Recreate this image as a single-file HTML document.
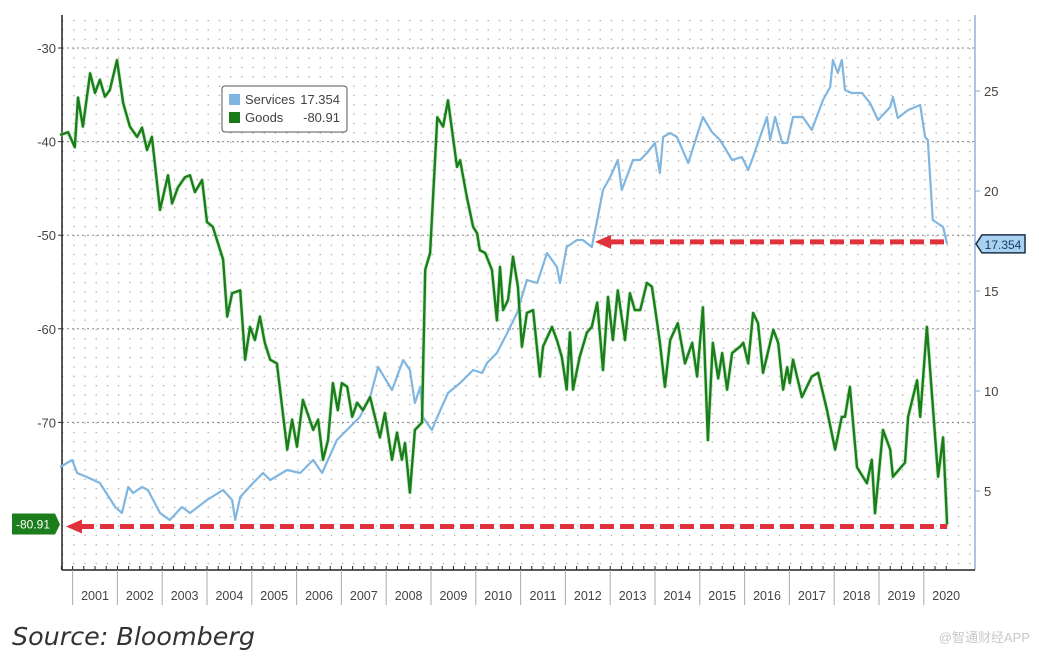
<!DOCTYPE html>
<html><head><meta charset="utf-8">
<style>
body{margin:0;background:#fff;width:1039px;height:657px;overflow:hidden;font-family:"Liberation Sans","Noto Sans CJK SC",sans-serif}
svg{position:absolute;left:0;top:0}
</style></head>
<body>
<svg id="chart" width="1039" height="657" viewBox="0 0 1039 657">
<defs>
<pattern id="dots" x="62" y="20" width="11.2" height="9.36" patternUnits="userSpaceOnUse">
<rect x="0" y="0" width="1.2" height="1.2" fill="#9a9a9a"/>
</pattern>
</defs>
<rect x="62" y="15" width="913" height="555" fill="url(#dots)"/>
<g id="hgrid"></g>
<g id="axes"></g>
<g id="series"></g>
<g id="overlay"></g>
<g>
<rect x="222" y="86" width="125" height="46" rx="3" fill="#fff" stroke="#555" stroke-width="1"/>
<rect x="229" y="94" width="11" height="11" fill="#7fb5e0"/>
<text x="245" y="104" font-size="13" fill="#444">Services</text>
<text x="340" y="104" font-size="13" fill="#444" text-anchor="end">17.354</text>
<rect x="229" y="112" width="11" height="11" fill="#1a7a1a"/>
<text x="245" y="122" font-size="13" fill="#444">Goods</text>
<text x="340" y="122" font-size="13" fill="#444" text-anchor="end">-80.91</text>
</g>
<text x="12" y="645" font-size="25" font-style="italic" fill="#333" font-family="'DejaVu Sans','Liberation Sans',sans-serif" textLength="243" lengthAdjust="spacingAndGlyphs">Source: Bloomberg</text>
<text x="1030" y="642" font-size="13" fill="#c8c8c8" text-anchor="end" font-family="'Liberation Sans','Noto Sans CJK SC',sans-serif">@智通财经APP</text>
</svg>
<script>
const goodsDates=[2000.72,2000.90,2001.05,2001.12,2001.23,2001.39,2001.50,2001.61,2001.72,2001.83,2001.99,2002.13,2002.28,2002.44,2002.55,2002.66,2002.77,2002.95,2003.13,2003.22,2003.35,2003.51,2003.62,2003.73,2003.89,2004.00,2004.13,2004.36,2004.45,2004.56,2004.74,2004.85,2004.96,2005.07,2005.18,2005.29,2005.41,2005.56,2005.79,2005.90,2006.01,2006.14,2006.37,2006.48,2006.59,2006.70,2006.81,2006.92,2007.01,2007.13,2007.24,2007.35,2007.48,2007.64,2007.86,2007.97,2008.13,2008.24,2008.35,2008.42,2008.53,2008.64,2008.80,2008.87,2008.98,2009.14,2009.27,2009.38,2009.58,2009.65,2009.80,2009.94,2010.03,2010.09,2010.21,2010.36,2010.47,2010.54,2010.61,2010.72,2010.83,2010.94,2011.03,2011.14,2011.28,2011.43,2011.50,2011.70,2011.81,2011.92,2012.03,2012.10,2012.17,2012.32,2012.48,2012.59,2012.71,2012.84,2012.95,2013.06,2013.17,2013.33,2013.44,2013.55,2013.67,2013.82,2013.93,2014.05,2014.11,2014.22,2014.34,2014.51,2014.67,2014.83,2014.94,2015.07,2015.18,2015.29,2015.41,2015.50,2015.61,2015.72,2015.90,2015.97,2016.08,2016.19,2016.30,2016.41,2016.64,2016.75,2016.86,2016.95,2017.01,2017.08,2017.28,2017.50,2017.64,2017.84,2018.02,2018.17,2018.24,2018.35,2018.51,2018.73,2018.84,2018.91,2019.09,2019.25,2019.31,2019.58,2019.65,2019.85,2019.92,2020.07,2020.32,2020.43,2020.52];
const goodsValues=[-39.3,-39.0,-40.6,-35.3,-38.4,-32.7,-34.8,-33.4,-35.2,-34.5,-31.3,-35.9,-38.4,-39.5,-38.5,-40.9,-39.5,-47.3,-43.6,-46.6,-44.9,-43.8,-43.6,-45.4,-44.1,-48.6,-49.1,-52.6,-58.7,-56.2,-55.9,-63.3,-59.8,-61.2,-58.7,-61.5,-63.3,-63.7,-72.9,-69.7,-72.6,-67.6,-70.8,-69.7,-74.0,-71.9,-65.8,-68.7,-65.8,-66.2,-69.4,-67.9,-68.7,-67.3,-71.6,-69.0,-74.0,-71.1,-74.0,-72.2,-77.5,-70.8,-70.0,-53.7,-51.9,-37.4,-38.4,-35.6,-42.7,-42.0,-45.9,-49.1,-49.8,-51.6,-51.9,-53.7,-59.1,-53.4,-58.0,-56.9,-52.3,-55.5,-61.9,-58.3,-58.0,-65.1,-61.9,-59.8,-61.2,-63.0,-66.5,-60.4,-66.5,-63.0,-60.4,-59.8,-57.2,-64.4,-56.6,-61.2,-55.9,-61.2,-56.2,-58.0,-58.0,-55.1,-55.5,-59.4,-61.5,-66.2,-61.2,-59.4,-63.7,-61.5,-65.1,-57.7,-71.9,-61.5,-65.3,-62.6,-66.5,-62.6,-61.9,-61.5,-63.7,-58.3,-59.4,-64.7,-60.1,-61.5,-66.5,-64.1,-65.8,-63.3,-67.3,-65.1,-64.7,-68.7,-72.9,-69.4,-69.4,-66.2,-74.8,-76.5,-74.0,-79.7,-70.8,-72.9,-75.8,-74.3,-69.4,-65.5,-69.4,-59.8,-75.8,-71.6,-80.91];
const servicesDates=[2000.72,2000.99,2001.10,2001.32,2001.61,2001.95,2002.10,2002.24,2002.35,2002.55,2002.68,2002.95,2003.17,2003.44,2003.62,2004.00,2004.36,2004.56,2004.63,2004.74,2005.03,2005.25,2005.41,2005.79,2006.08,2006.37,2006.57,2006.90,2007.19,2007.41,2007.64,2007.82,2008.13,2008.38,2008.53,2008.64,2008.76,2008.82,2009.02,2009.14,2009.38,2009.65,2009.94,2010.14,2010.25,2010.47,2010.70,2010.92,2011.14,2011.37,2011.59,2011.81,2011.88,2012.03,2012.26,2012.39,2012.59,2012.71,2012.84,2013.00,2013.17,2013.26,2013.51,2013.67,2013.82,2014.00,2014.11,2014.18,2014.34,2014.49,2014.74,2015.07,2015.27,2015.45,2015.72,2015.94,2016.08,2016.19,2016.50,2016.57,2016.68,2016.84,2016.95,2017.08,2017.30,2017.50,2017.75,2017.91,2017.97,2018.08,2018.17,2018.24,2018.39,2018.62,2018.80,2018.98,2019.25,2019.31,2019.42,2019.65,2019.92,2020.03,2020.09,2020.20,2020.43,2020.52];
const servicesValues=[6.2,6.55,5.9,5.7,5.4,4.2,3.9,5.2,4.9,5.2,5.05,3.9,3.55,4.2,3.9,4.55,5.05,4.55,3.55,4.7,5.4,5.9,5.55,6.05,5.9,6.55,5.9,7.55,8.2,8.7,9.7,11.2,10.05,11.55,11.05,9.4,10.2,8.7,8.05,8.7,9.9,10.4,11.05,10.9,11.4,11.9,12.9,13.9,15.55,15.4,16.9,16.2,15.4,17.2,17.55,17.55,17.2,18.55,20.05,20.7,21.55,20.05,21.55,21.55,21.9,22.4,20.9,22.7,22.9,22.7,21.4,23.7,22.95,22.55,21.55,21.7,21.05,21.7,23.7,22.55,23.7,22.4,22.4,23.7,23.7,23.05,24.55,25.2,26.55,25.9,26.55,25.05,24.9,24.9,24.4,23.55,24.2,24.7,23.65,24.05,24.3,22.7,22.55,18.55,18.2,17.354];
const leftTicks=[-30,-40,-50,-60,-70];
const rightTicks=[25,20,15,10,5];
const years=[2001,2002,2003,2004,2005,2006,2007,2008,2009,2010,2011,2012,2013,2014,2015,2016,2017,2018,2019,2020];

const NS='http://www.w3.org/2000/svg';
const X0=62,X1=975,YB=570;
const xS=t=>72.6+(t-2001)*44.8;
const yL=v=>48+(-30-v)*9.36;
const yR=v=>91+(25-v)*20;
function mk(tag,attrs,parent){const e=document.createElementNS(NS,tag);for(const k in attrs)e.setAttribute(k,attrs[k]);parent.appendChild(e);return e;}
const hg=document.getElementById('hgrid'),ax=document.getElementById('axes'),se=document.getElementById('series'),ov=document.getElementById('overlay');

leftTicks.forEach(v=>{
  const y=yL(v);
  const l=mk('line',{x1:X0,x2:X1,y1:y,y2:y,stroke:'#888','stroke-width':1,'stroke-dasharray':'2 3'},hg);
  
  
  const t=mk('text',{x:56,y:y+5,'font-size':13,fill:'#444','text-anchor':'end'},ax);
  t.textContent=String(v);
  
  
  mk('line',{x1:X0-4,x2:X0,y1:y,y2:y,stroke:'#333'},ax);
});
rightTicks.forEach(v=>{
  const y=yR(v);
  const t=mk('text',{x:984,y:y+5,'font-size':13,fill:'#444'},ax);
  t.textContent=String(v);
  
  
  mk('line',{x1:X1,x2:X1+5,y1:y,y2:y,stroke:'#7fa8c8'},ax);
});
const la=mk('line',{x1:X0,x2:X0,y1:15,y2:YB,stroke:'#222','stroke-width':1.5},ax);


const ra=mk('line',{x1:X1,x2:X1,y1:15,y2:YB,stroke:'#8fb4d4','stroke-width':1.5},ax);


const ba=mk('line',{x1:X0,x2:X1,y1:YB,y2:YB,stroke:'#222','stroke-width':1.5},ax);


for(let q=2000.75;q<2020.75;q+=0.25){mk('line',{x1:xS(q),x2:xS(q),y1:YB,y2:YB-4,stroke:'#222'},ax);}
years.forEach(yr=>{
  const x=xS(yr);
  mk('line',{x1:x,x2:x,y1:YB,y2:605,stroke:'#aaa'},ax);
  const t=mk('text',{x:x+22.4,y:600,'font-size':12.5,fill:'#444','text-anchor':'middle'},ax);
  t.textContent=String(yr);
  
  
});

function path(ds,vs,ys){return ds.map((d,i)=>(i?'L':'M')+xS(d).toFixed(1)+' '+ys(vs[i]).toFixed(1)).join(' ');}
const sp=mk('path',{d:path(servicesDates,servicesValues,yR),fill:'none',stroke:'#80b6e0','stroke-width':2.2,'stroke-linejoin':'round'},se);


const gp0=mk('path',{d:path(goodsDates,goodsValues,yL),fill:'none',stroke:'#9be09b','stroke-width':4,'stroke-linejoin':'round',opacity:0.5},se);
const gp=mk('path',{d:path(goodsDates,goodsValues,yL),fill:'none',stroke:'#1b7d1b','stroke-width':2.4,'stroke-linejoin':'round'},se);



// red dashed arrows
const lastG=goodsValues[goodsValues.length-1], lastS=servicesValues[servicesValues.length-1];
const endX=xS(goodsDates[goodsDates.length-1]);
const yg=yL(lastG)+2, ys=yR(lastS)-2;
const a1=mk('line',{x1:80,x2:endX,y1:yg,y2:yg,stroke:'#e0323c','stroke-width':5,'stroke-dasharray':'14 6'},ov);


mk('polygon',{points:`66,${yg} 82,${yg-7} 82,${yg+7}`,fill:'#e0323c'},ov);
const a2=mk('line',{x1:610,x2:endX,y1:ys,y2:ys,stroke:'#e0323c','stroke-width':5,'stroke-dasharray':'14 6'},ov);


mk('polygon',{points:`595,${ys} 611,${ys-7} 611,${ys+7}`,fill:'#e0323c'},ov);

// value tags
const gy=yL(lastG);
const gt=mk('rect',{x:12,y:gy-11,width:43,height:21,fill:'#1b7d1b'},ov);


mk('polygon',{points:`55,${gy-11} 60,${gy} 55,${gy+10}`,fill:'#1b7d1b'},ov);
const gtt=mk('text',{x:33,y:gy+4,'font-size':12,fill:'#fff','text-anchor':'middle'},ov);gtt.textContent=lastG.toFixed(2);
const sy=yR(lastS);
const st=mk('polygon',{points:`976,${sy} 982,${sy-9} 1025,${sy-9} 1025,${sy+9} 982,${sy+9}`,fill:'#a9d2f0',stroke:'#1b2f4a','stroke-width':1.5},ov);


const stt=mk('text',{x:1003,y:sy+5,'font-size':12,fill:'#1b3a6a','text-anchor':'middle'},ov);stt.textContent=lastS.toFixed(3);
</script>
</body></html>
